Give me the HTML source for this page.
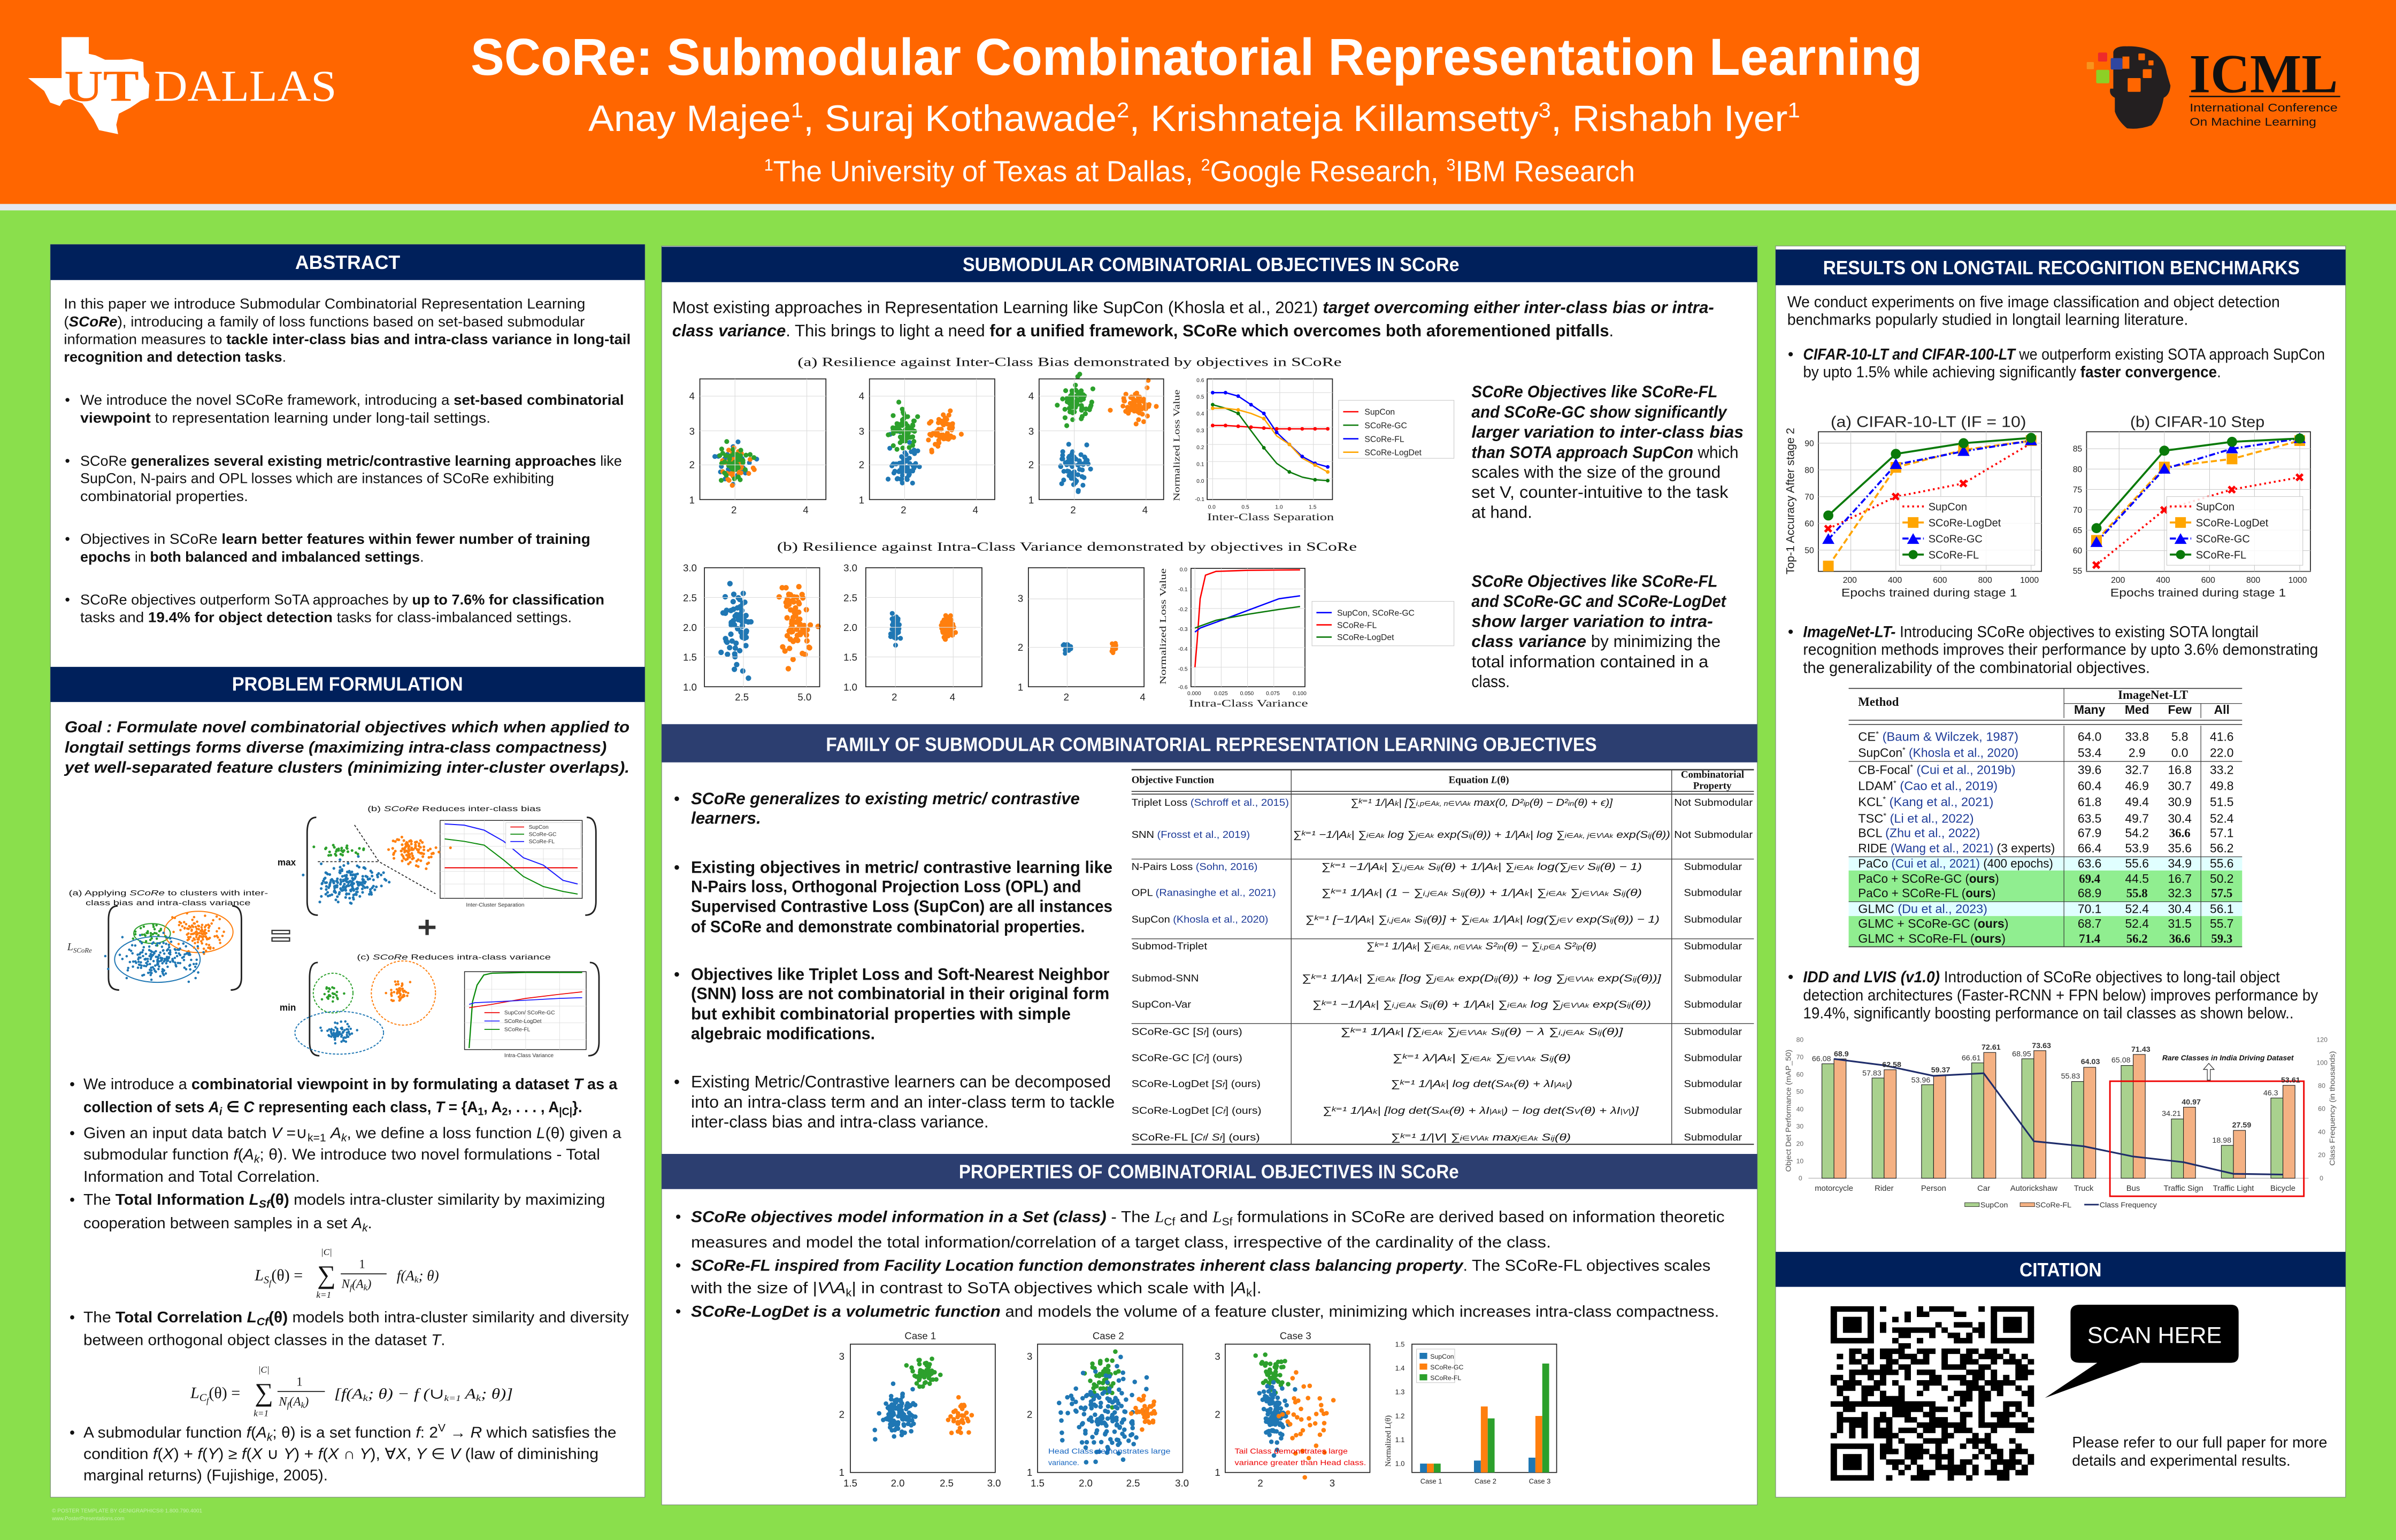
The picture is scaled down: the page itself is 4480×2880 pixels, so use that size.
<!DOCTYPE html>
<html><head><meta charset="utf-8"><style>
html,body{margin:0;padding:0;background:#8ADF4C;}
svg{display:block}
text{font-family:"Liberation Sans","DejaVu Sans",sans-serif;}
.s{font-family:"Liberation Serif","DejaVu Serif",serif;}
.b{font-weight:bold}
.i{font-style:italic}
.bi{font-weight:bold;font-style:italic}
.hd{font-weight:bold;fill:#fff;font-size:12.5px}
.cite{fill:#1f3c99}
</style></head><body>
<svg id="P" xmlns="http://www.w3.org/2000/svg" width="4480" height="2880" viewBox="0 0 1568 1008">
<rect x="0" y="0" width="1568" height="1008" fill="#8ADF4C"/>
<rect x="0" y="0" width="1568" height="133.5" fill="#FF6600"/>
<rect x="0" y="133.5" width="1568" height="4.2" fill="#E4E8F1"/>

<!-- UT Dallas logo -->
<polygon fill="#fff" points="40.3,24.3 58.1,24.3 58.1,35.2 62.5,36.2 68.8,39.1 79.7,39.1 85.9,38.5 93.8,40.6 94.1,50.2 97.7,55.4 97.2,64.2 92.2,65.9 85.2,70.6 77.8,74.4 76.1,81.7 77.3,87.8 64.8,85.2 61.3,78.2 53.9,67.7 45.6,64.8 41.4,65.9 39.1,69.4 32.8,67.1 28.9,59.5 18.4,51.1 40.3,51.1"/>
<text class="s" x="42" y="66" font-size="29" fill="#FF6600" font-weight="bold" textLength="49" lengthAdjust="spacingAndGlyphs">UT</text>
<text class="s" x="100.8" y="66" font-size="29" fill="#fff" textLength="119.5" lengthAdjust="spacingAndGlyphs">DALLAS</text>

<!-- ICML logo -->
<path fill="#231f20" d="M1383,34 Q1384,30 1392,30.3 Q1415,30 1418,48 L1420.4,56 Q1420,62 1416,64 Q1414,76 1408,82 Q1400,85 1392,84 Q1386,79 1384,73 L1384,64 Q1380,62 1381,58 L1383,58 Z"/>
<rect x="1373" y="34.4" width="6" height="5.9" rx="0.8" fill="#ee2a2a"/>
<rect x="1381.3" y="38" width="7.7" height="7.5" rx="0.8" fill="#2f46a0"/>
<rect x="1365.6" y="40.6" width="4.7" height="4.7" rx="0.6" fill="#f7941d"/>
<rect x="1371.8" y="45.7" width="8.6" height="8.8" rx="0.8" fill="#8dd026"/>
<rect x="1389" y="37" width="4.5" height="8" fill="#FF6600"/>
<rect x="1399.4" y="35" width="4.3" height="4.4" rx="0.6" fill="#FF6600"/>
<rect x="1406" y="39.5" width="3.3" height="3.3" rx="0.5" fill="#FF6600"/>
<rect x="1402.3" y="45.3" width="5.8" height="5.8" rx="0.6" fill="#FF6600"/>
<rect x="1392.4" y="51.1" width="8.5" height="9" rx="0.6" fill="#FF6600"/>
<text class="s" x="1432.7" y="60.4" font-size="36" font-weight="bold" fill="#111" textLength="97.3" lengthAdjust="spacingAndGlyphs">ICML</text>
<rect x="1432.7" y="62.7" width="98.8" height="0.9" fill="#111"/>
<text x="1433" y="72.9" font-size="7.3" fill="#111" textLength="96.8" lengthAdjust="spacingAndGlyphs">International Conference</text>
<text x="1433" y="82.3" font-size="7.3" fill="#111" textLength="82.8" lengthAdjust="spacingAndGlyphs">On Machine Learning</text>

<!-- Title -->
<text x="308" y="49" font-size="34" font-weight="bold" fill="#fff" textLength="950" lengthAdjust="spacingAndGlyphs">SCoRe: Submodular Combinatorial Representation Learning</text>
<text x="385" y="85.8" font-size="24" fill="#fff" textLength="793" lengthAdjust="spacingAndGlyphs">Anay Majee<tspan font-size="14" dy="-9">1</tspan><tspan dy="9">, Suraj Kothawade</tspan><tspan font-size="14" dy="-9">2</tspan><tspan dy="9">, Krishnateja Killamsetty</tspan><tspan font-size="14" dy="-9">3</tspan><tspan dy="9">, Rishabh Iyer</tspan><tspan font-size="14" dy="-9">1</tspan></text>
<text x="500" y="118.6" font-size="19" fill="#fff" textLength="570" lengthAdjust="spacingAndGlyphs"><tspan font-size="11" dy="-7">1</tspan><tspan dy="7">The University of Texas at Dallas, </tspan><tspan font-size="11" dy="-7">2</tspan><tspan dy="7">Google Research, </tspan><tspan font-size="11" dy="-7">3</tspan><tspan dy="7">IBM Research</tspan></text>

<!-- Column boxes -->
<rect x="33" y="160" width="389" height="820" fill="#fff" stroke="#7a8a7a" stroke-width="0.4"/>
<rect x="433" y="161" width="717" height="824" fill="#fff" stroke="#7a8a7a" stroke-width="0.4"/>
<rect x="1162" y="161" width="373" height="819" fill="#fff" stroke="#7a8a7a" stroke-width="0.4"/>

<!-- Headers -->
<rect x="33" y="160" width="389" height="23.3" fill="#00205B"/>
<text class="hd" x="227.5" y="176" text-anchor="middle">ABSTRACT</text>
<rect x="33" y="436.5" width="389" height="23" fill="#00205B"/>
<text class="hd" x="151.8" y="452" textLength="151.2" lengthAdjust="spacingAndGlyphs">PROBLEM FORMULATION</text>
<rect x="433" y="161.5" width="717" height="23.2" fill="#00205B"/>
<text class="hd" x="630" y="177.5" textLength="325" lengthAdjust="spacingAndGlyphs">SUBMODULAR COMBINATORIAL OBJECTIVES IN SCoRe</text>
<rect x="433" y="474" width="717" height="25" fill="#2C3E70"/>
<text class="hd" x="540.5" y="491.5" textLength="504.5" lengthAdjust="spacingAndGlyphs">FAMILY OF SUBMODULAR COMBINATORIAL REPRESENTATION LEARNING OBJECTIVES</text>
<rect x="433" y="755.3" width="717" height="23" fill="#2C3E70"/>
<text class="hd" x="627.5" y="771.3" textLength="327.2" lengthAdjust="spacingAndGlyphs">PROPERTIES OF COMBINATORIAL OBJECTIVES IN SCoRe</text>
<rect x="1162" y="163.3" width="373" height="23.4" fill="#00205B"/>
<text class="hd" x="1193" y="179.5" textLength="312" lengthAdjust="spacingAndGlyphs">RESULTS ON LONGTAIL RECOGNITION BENCHMARKS</text>
<rect x="1162" y="819.4" width="373" height="22.9" fill="#00205B"/>
<text class="hd" x="1321.6" y="835.5" textLength="53.7" lengthAdjust="spacingAndGlyphs">CITATION</text>

<!-- Abstract text -->
<g font-size="9.5" fill="#111">
<text x="41.8" y="202" textLength="341.2" lengthAdjust="spacingAndGlyphs">In this paper we introduce Submodular Combinatorial Representation Learning</text>
<text x="41.8" y="213.6" textLength="340.9" lengthAdjust="spacingAndGlyphs">(<tspan class="bi">SCoRe</tspan>), introducing a family of loss functions based on set-based submodular</text>
<text x="41.8" y="225.2" textLength="370.9" lengthAdjust="spacingAndGlyphs">information measures to <tspan class="b">tackle inter-class bias and intra-class variance in long-tail</tspan></text>
<text x="41.8" y="236.8" textLength="145.5" lengthAdjust="spacingAndGlyphs"><tspan class="b">recognition and detection tasks</tspan>.</text>
<text x="42.5" y="265">•</text><text x="52.5" y="265" textLength="355.8" lengthAdjust="spacingAndGlyphs">We introduce the novel SCoRe framework, introducing a <tspan class="b">set-based combinatorial</tspan></text>
<text x="52.5" y="276.6" textLength="268.5" lengthAdjust="spacingAndGlyphs"><tspan class="b">viewpoint</tspan> to representation learning under long-tail settings.</text>
<text x="42.5" y="304.8">•</text><text x="52.5" y="304.8" textLength="354.5" lengthAdjust="spacingAndGlyphs">SCoRe <tspan class="b">generalizes several existing metric/contrastive learning approaches</tspan> like</text>
<text x="52.5" y="316.3" textLength="310.1" lengthAdjust="spacingAndGlyphs">SupCon, N-pairs and OPL losses which are instances of SCoRe exhibiting</text>
<text x="52.5" y="327.9" textLength="109.9" lengthAdjust="spacingAndGlyphs">combinatorial properties.</text>
<text x="42.5" y="356">•</text><text x="52.5" y="356" textLength="333.8" lengthAdjust="spacingAndGlyphs">Objectives in SCoRe <tspan class="b">learn better features within fewer number of training</tspan></text>
<text x="52.5" y="367.7" textLength="224.9" lengthAdjust="spacingAndGlyphs"><tspan class="b">epochs</tspan> in <tspan class="b">both balanced and imbalanced settings</tspan>.</text>
<text x="42.5" y="395.7">•</text><text x="52.5" y="395.7" textLength="343" lengthAdjust="spacingAndGlyphs">SCoRe objectives outperform SoTA approaches by <tspan class="b">up to 7.6% for classification</tspan></text>
<text x="52.5" y="407.3" textLength="321.7" lengthAdjust="spacingAndGlyphs">tasks and <tspan class="b">19.4% for object detection</tspan> tasks for class-imbalanced settings.</text>
</g>

<!-- Problem formulation -->
<g font-size="10.5" class="bi" fill="#111">
<text class="bi" x="42.3" y="479.3" textLength="369.7" lengthAdjust="spacingAndGlyphs">Goal : Formulate novel combinatorial objectives which when applied to</text>
<text class="bi" x="42.3" y="492.7" textLength="354.7" lengthAdjust="spacingAndGlyphs">longtail settings forms diverse (maximizing intra-class compactness)</text>
<text class="bi" x="42.3" y="505.7" textLength="369.7" lengthAdjust="spacingAndGlyphs">yet well-separated feature clusters (minimizing inter-cluster overlaps).</text>
</g>
<!-- formulation figure -->
<g fill="none" stroke="#222" stroke-width="1">
<path d="M207,535 Q201,535 201,545 L201,590 Q201,599 208,599"/>
<path d="M384,535 Q390,535 390,545 L390,590 Q390,599 383,599"/>
<path d="M77,593 Q71,593 71,602 L71,640 Q71,648 78,648"/>
<path d="M152,593 Q158,593 158,602 L158,640 Q158,648 151,648"/>
<path d="M208,630 Q202.6,630 202.6,640 L202.6,682 Q202.6,691 209,691"/>
<path d="M386,630 Q392,630 392,640 L392,682 Q392,691 385,691"/>
</g>
<g stroke="#222" stroke-width="0.6" stroke-dasharray="1.5,1.2" fill="none">
<path d="M208,564 L248,564"/><path d="M232,540 L248,564 L285,585"/>
</g>
<text x="240.5" y="531" font-size="5" textLength="113.5" lengthAdjust="spacingAndGlyphs" fill="#111">(b) <tspan class="i">SCoRe</tspan> Reduces inter-class bias</text>
<text x="181.6" y="566.5" font-size="6" class="b" fill="#111">max</text>
<text x="45" y="586" font-size="4.8" textLength="130.4" lengthAdjust="spacingAndGlyphs" fill="#111">(a) Applying <tspan class="i">SCoRe</tspan> to clusters with inter-</text>
<text x="56" y="592.5" font-size="4.8" textLength="108" lengthAdjust="spacingAndGlyphs" fill="#111">class bias and intra-class variance</text>
<text class="s i" x="44" y="622" font-size="7" fill="#333">L<tspan font-size="4.5" dy="1.5">SCoRe</tspan></text>
<g stroke="#333" stroke-width="0.8" fill="none"><rect x="178" y="609" width="11.5" height="2.2"/><rect x="178" y="613.8" width="11.5" height="2.2"/>
<path d="M279.5,602 L279.5,612 M274,607 L285,607" stroke-width="2.2"/></g>
<g fill="none" stroke-width="0.7">
<ellipse cx="99.5" cy="611" rx="12" ry="6.5" stroke="#2ca02c"/>
<ellipse cx="130" cy="610" rx="22.5" ry="13.5" stroke="#ff7f0e"/>
<ellipse cx="103" cy="628" rx="28" ry="15" stroke="#1f77b4"/>
<circle cx="218" cy="650" r="13" stroke="#2ca02c" stroke-dasharray="1.5,1"/>
<circle cx="264" cy="650" r="21" stroke="#ff7f0e" stroke-dasharray="1.5,1"/>
<ellipse cx="222" cy="676" rx="29" ry="14" stroke="#1f77b4" stroke-dasharray="1.5,1"/>
</g>
<text x="233.6" y="628" font-size="5" textLength="126.9" lengthAdjust="spacingAndGlyphs" fill="#111">(c) <tspan class="i">SCoRe</tspan> Reduces intra-class variance</text>
<text x="183" y="661.5" font-size="6" class="b" fill="#111">min</text>
<!-- mini chart b -->
<g>
<rect x="288" y="537" width="93" height="51" fill="none" stroke="#222" stroke-width="0.5"/>
<g stroke="#ddd" stroke-width="0.3"><path d="M291,537V588M303.8,537V588M316.9,537V588M329.7,537V588M342.5,537V588M355.6,537V588M368.4,537V588M288,545.8H381M288,554H381M288,562.2H381M288,570.4H381M288,578.6H381"/></g>
<polyline fill="none" stroke="#e00" stroke-width="0.7" points="291,568 303.8,568 316.9,568 329.7,568 342.5,568 355.6,568 368.4,568 378,568"/>
<polyline fill="none" stroke="#1a1aff" stroke-width="0.7" points="291,539.3 303.8,540.1 316.9,543.4 329.7,550.7 342.5,561.4 355.6,566.3 368.4,576.2 378,578.6"/>
<polyline fill="none" stroke="#0a8a0a" stroke-width="0.7" points="291,549.1 303.8,550.7 316.9,553.2 329.7,563 342.5,573.7 355.6,580.3 368.4,583.5 378,585.2"/>
<rect x="331" y="538.5" width="49" height="17" fill="#fff" stroke="#ccc" stroke-width="0.3"/>
<g class="s" font-size="3.6" fill="#333"><text x="346" y="542.5">SupCon</text><text x="346" y="547.3">SCoRe-GC</text><text x="346" y="552">SCoRe-FL</text>
<text x="305" y="593.5">Inter-Cluster Separation</text></g>
<g stroke-width="0.6"><path d="M334,541.3h9" stroke="#e00"/><path d="M334,546h9" stroke="#0a8a0a"/><path d="M334,550.8h9" stroke="#1a1aff"/></g>
</g>
<!-- mini chart c -->
<g>
<rect x="304" y="636" width="79.6" height="51" fill="none" stroke="#222" stroke-width="0.5"/>
<g stroke="#ddd" stroke-width="0.3"><path d="M304,647.5H383.6M304,658.5H383.6M304,669.5H383.6M304,680.5H383.6M321.8,636V687M344,636V687M366.2,636V687"/></g>
<polyline fill="none" stroke="#0a8a0a" stroke-width="0.8" points="307,686 309.2,655.8 312.2,644.8 316.6,638.2 321.8,637 344,636.5 366.2,636.5 381,636.5"/>
<polyline fill="none" stroke="#e00" stroke-width="0.6" points="307,659.6 321.8,657.4 344,653.5 366.2,650.8 381,649.2"/>
<polyline fill="none" stroke="#1a1aff" stroke-width="0.6" points="307,657.4 310.7,656.3 321.8,655.8 344,654.7 366.2,653.5 381,653"/>
<g class="s" font-size="3.6" fill="#333"><text x="330" y="664">SupCon/ SCoRe-GC</text><text x="330" y="669.5">SCoRe-LogDet</text><text x="330" y="675">SCoRe-FL</text><text x="330" y="692">Intra-Class Variance</text></g>
<g stroke-width="0.6"><path d="M317,662.8h10" stroke="#e00"/><path d="M317,668.3h10" stroke="#1a1aff"/><path d="M317,673.8h10" stroke="#0a8a0a"/></g>
</g>
<g id="sc"></g>

<g font-size="10" fill="#111">
<text x="45.5" y="713">•</text><text x="54.6" y="713" textLength="349.4" lengthAdjust="spacingAndGlyphs">We introduce a <tspan class="b">combinatorial viewpoint in by formulating a dataset <tspan class="i">T</tspan> as a</tspan></text>
<text x="54.6" y="728" textLength="326.4" lengthAdjust="spacingAndGlyphs" class="b">collection of sets <tspan class="i">A<tspan font-size="7" dy="2">i</tspan></tspan><tspan dy="-2"> ∈ </tspan><tspan class="i">C</tspan> representing each class, <tspan class="i">T</tspan> = {A<tspan font-size="7" dy="2">1</tspan><tspan dy="-2">, A</tspan><tspan font-size="7" dy="2">2</tspan><tspan dy="-2">, . . . , A</tspan><tspan font-size="7" dy="2">|C|</tspan><tspan dy="-2">}.</tspan></text>
<text x="45.5" y="745">•</text><text x="54.6" y="745" textLength="352" lengthAdjust="spacingAndGlyphs">Given an input data batch <tspan class="i">V</tspan> =∪<tspan font-size="7" dy="2">k=1</tspan><tspan dy="-2"> </tspan><tspan class="i">A<tspan font-size="7" dy="2">k</tspan></tspan><tspan dy="-2">, we define a loss function </tspan><tspan class="i">L</tspan>(θ) given a</text>
<text x="54.6" y="759" textLength="338.1" lengthAdjust="spacingAndGlyphs">submodular function <tspan class="i">f</tspan>(<tspan class="i">A<tspan font-size="7" dy="2">k</tspan></tspan><tspan dy="-2">; θ). We introduce two novel formulations - Total</tspan></text>
<text x="54.6" y="773.5" textLength="154.7" lengthAdjust="spacingAndGlyphs">Information and Total Correlation.</text>
<text x="45.5" y="788.5">•</text><text x="54.6" y="788.5" textLength="341.4" lengthAdjust="spacingAndGlyphs">The <tspan class="b">Total Information </tspan><tspan class="bi">L<tspan font-size="7" dy="2">Sf</tspan></tspan><tspan class="b" dy="-2">(θ)</tspan> models intra-cluster similarity by maximizing</text>
<text x="54.6" y="804" textLength="188.9" lengthAdjust="spacingAndGlyphs">cooperation between samples in a set <tspan class="i">A<tspan font-size="7" dy="2">k</tspan></tspan><tspan dy="-2">.</tspan></text>
<text x="45.5" y="865.5">•</text><text x="54.6" y="865.5" textLength="356.9" lengthAdjust="spacingAndGlyphs">The <tspan class="b">Total Correlation </tspan><tspan class="bi">L<tspan font-size="7" dy="2">Cf</tspan></tspan><tspan class="b" dy="-2">(θ)</tspan> models both intra-cluster similarity and diversity</text>
<text x="54.6" y="880.5" textLength="236.8" lengthAdjust="spacingAndGlyphs">between orthogonal object classes in the dataset <tspan class="i">T</tspan>.</text>
<text x="45.5" y="941">•</text><text x="54.6" y="941" textLength="348.8" lengthAdjust="spacingAndGlyphs">A submodular function <tspan class="i">f</tspan>(<tspan class="i">A<tspan font-size="7" dy="2">k</tspan></tspan><tspan dy="-2">; θ) is a set function </tspan><tspan class="i">f</tspan>: 2<tspan font-size="7" dy="-4">V</tspan><tspan dy="4"> → </tspan><tspan class="i">R</tspan> which satisfies the</text>
<text x="54.6" y="955" textLength="337.1" lengthAdjust="spacingAndGlyphs">condition <tspan class="i">f</tspan>(<tspan class="i">X</tspan>) + <tspan class="i">f</tspan>(<tspan class="i">Y</tspan>) ≥ <tspan class="i">f</tspan>(<tspan class="i">X</tspan> ∪ <tspan class="i">Y</tspan>) + <tspan class="i">f</tspan>(<tspan class="i">X</tspan> ∩ <tspan class="i">Y</tspan>), ∀<tspan class="i">X</tspan>, <tspan class="i">Y</tspan> ∈ <tspan class="i">V</tspan> (law of diminishing</text>
<text x="54.6" y="969" textLength="159.9" lengthAdjust="spacingAndGlyphs">marginal returns) (Fujishige, 2005).</text>
</g>
<!-- Eq1 -->
<g fill="#111" class="s">
<text class="s i" x="166.7" y="838" font-size="10.5">L<tspan font-size="7" dy="2">S</tspan><tspan font-size="5.5" dy="1.5">f</tspan><tspan dy="-3.5" font-style="normal">(θ) =</tspan></text>
<text class="s" x="207.6" y="840" font-size="17">∑</text>
<text class="s i" x="210" y="821.5" font-size="6">|C|</text>
<text class="s i" x="207" y="849.5" font-size="6">k=1</text>
<text class="s" x="235" y="830" font-size="8">1</text>
<rect x="223" y="833.5" width="30" height="0.6" fill="#111"/>
<text class="s i" x="223.5" y="843" font-size="8">N<tspan font-size="5.5" dy="1.5">f</tspan><tspan dy="-1.5">(A</tspan><tspan font-size="5.5" dy="1.5">k</tspan><tspan dy="-1.5">)</tspan></text>
<text class="s i" x="259.6" y="838" font-size="9.5">f(A<tspan font-size="6" dy="1.5">k</tspan><tspan dy="-1.5">; θ)</tspan></text>
<!-- Eq2 -->
<text class="s i" x="124.6" y="915" font-size="10.5">L<tspan font-size="7" dy="2">C</tspan><tspan font-size="5.5" dy="1.5">f</tspan><tspan dy="-3.5" font-style="normal">(θ) =</tspan></text>
<text class="s" x="166.7" y="917" font-size="17">∑</text>
<text class="s i" x="169" y="898.5" font-size="6">|C|</text>
<text class="s i" x="166" y="927" font-size="6">k=1</text>
<text class="s" x="194" y="907" font-size="8">1</text>
<rect x="181.6" y="910.5" width="31" height="0.6" fill="#111"/>
<text class="s i" x="182.5" y="920" font-size="8">N<tspan font-size="5.5" dy="1.5">f</tspan><tspan dy="-1.5">(A</tspan><tspan font-size="5.5" dy="1.5">k</tspan><tspan dy="-1.5">)</tspan></text>
<text class="s i" x="218.7" y="915.5" font-size="9.5" textLength="117" lengthAdjust="spacingAndGlyphs">[f(A<tspan font-size="6" dy="1.5">k</tspan><tspan dy="-1.5">; θ) − f (∪</tspan><tspan font-size="5.5" dy="1.5">k=1</tspan><tspan dy="-1.5"> A</tspan><tspan font-size="6" dy="1.5">k</tspan><tspan dy="-1.5">; θ)]</tspan></text>
</g>
<text x="34" y="990" font-size="3.5" fill="#c8f0b0">© POSTER TEMPLATE BY GENIGRAPHICS® 1.800.790.4001</text>
<text x="34" y="995" font-size="3.5" fill="#c8f0b0">www.PosterPresentations.com</text>

<!-- Middle intro -->
<g font-size="11" fill="#111">
<text x="439.9" y="205" textLength="681.8" lengthAdjust="spacingAndGlyphs">Most existing approaches in Representation Learning like SupCon (Khosla et al., 2021) <tspan class="bi">target overcoming either inter-class bias or intra-</tspan></text>
<text x="439.9" y="220.2" textLength="616.1" lengthAdjust="spacingAndGlyphs"><tspan class="bi">class variance</tspan>. This brings to light a need <tspan class="b">for a unified framework, SCoRe which overcomes both aforementioned pitfalls</tspan>.</text>
</g>
<text class="s" x="522" y="239.5" font-size="8" textLength="356" lengthAdjust="spacingAndGlyphs" fill="#111">(a) Resilience against Inter-Class Bias demonstrated by objectives in SCoRe</text>
<text class="s" x="508.5" y="360.5" font-size="8" textLength="379.5" lengthAdjust="spacingAndGlyphs" fill="#111">(b) Resilience against Intra-Class Variance demonstrated by objectives in SCoRe</text>
<!-- scatter frames a -->
<g fill="none" stroke="#222" stroke-width="0.6">
<rect x="458" y="248" width="82.5" height="79"/><rect x="569" y="248" width="82" height="79"/><rect x="680" y="248" width="81.5" height="79"/><rect x="790" y="248" width="82" height="79"/>
<rect x="461" y="371.6" width="75.4" height="77.9"/><rect x="566.6" y="371.6" width="76" height="77.9"/><rect x="673" y="371.6" width="75.7" height="77.9"/><rect x="779.4" y="372" width="74.6" height="77.5"/>
</g>
<g stroke="#ddd" stroke-width="0.4">
<path d="M458,259.3H540.5M458,282H540.5M458,304.3H540.5M481,248V327M528,248V327"/>
<path d="M569,259.3H651M569,282H651M569,304.3H651M592,248V327M639,248V327"/>
<path d="M680,259.3H761.5M680,282H761.5M680,304.3H761.5M703,248V327M750,248V327"/>
<path d="M790,257H872M790,268.3H872M790,279.6H872M790,290.9H872M790,302.1H872M790,313.4H872M793.6,248V327M815.6,248V327M837.5,248V327M859.5,248V327"/>
<path d="M461,391.1H536.4M461,410.6H536.4M461,430H536.4M486.5,371.6V449.5M527.7,371.6V449.5"/>
<path d="M566.6,391.1H642.6M566.6,410.6H642.6M566.6,430H642.6M586,371.6V449.5M623.8,371.6V449.5"/>
<path d="M673,392H748.7M673,423.7H748.7M698.4,371.6V449.5"/>
<path d="M779.4,385.5H854M779.4,398.3H854M779.4,411.1H854M779.4,423.9H854M779.4,436.7H854M782,372V449.5M799.2,372V449.5M816.4,372V449.5M833.6,372V449.5"/>
</g>
<g class="s" font-size="6.5" fill="#222">
<text x="451" y="261.5">4</text><text x="451" y="284.5">3</text><text x="451" y="306.5">2</text><text x="451" y="329.5">1</text>
<text x="478.5" y="336">2</text><text x="525.5" y="336">4</text>
<text x="562" y="261.5">4</text><text x="562" y="284.5">3</text><text x="562" y="306.5">2</text><text x="562" y="329.5">1</text>
<text x="589.5" y="336">2</text><text x="636.5" y="336">4</text>
<text x="673" y="261.5">4</text><text x="673" y="284.5">3</text><text x="673" y="306.5">2</text><text x="673" y="329.5">1</text>
<text x="700.5" y="336">2</text><text x="747.5" y="336">4</text>
<text x="447" y="374">3.0</text><text x="447" y="393.5">2.5</text><text x="447" y="413">2.0</text><text x="447" y="432.5">1.5</text><text x="447" y="452">1.0</text>
<text x="481" y="458.5">2.5</text><text x="522" y="458.5">5.0</text>
<text x="552" y="374">3.0</text><text x="552" y="393.5">2.5</text><text x="552" y="413">2.0</text><text x="552" y="432.5">1.5</text><text x="552" y="452">1.0</text>
<text x="583.5" y="458.5">2</text><text x="621.5" y="458.5">4</text>
<text x="666" y="394">3</text><text x="666" y="426">2</text><text x="666" y="452">1</text>
<text x="696" y="458.5">2</text><text x="746" y="458.5">4</text>
</g>
<g class="s" font-size="3.6" fill="#222">
<text x="783" y="250">0.6</text><text x="783" y="261">0.5</text><text x="783" y="272">0.4</text><text x="783" y="283">0.3</text><text x="783" y="294">0.2</text><text x="783" y="305">0.1</text><text x="783" y="316">0.0</text><text x="782" y="328">-0.1</text>
<text x="790.5" y="333">0.0</text><text x="812.5" y="333">0.5</text><text x="834.5" y="333">1.0</text><text x="856.5" y="333">1.5</text>
<text x="772" y="374">0.0</text><text x="771" y="387">-0.1</text><text x="771" y="400">-0.2</text><text x="771" y="413">-0.3</text><text x="771" y="426">-0.4</text><text x="771" y="439">-0.5</text><text x="771" y="451">-0.6</text>
<text x="777" y="455">0.000</text><text x="794.5" y="455">0.025</text><text x="811.5" y="455">0.050</text><text x="828.5" y="455">0.075</text><text x="846" y="455">0.100</text>
</g>
<text class="s" x="790" y="340.5" font-size="6.5" textLength="83" lengthAdjust="spacingAndGlyphs" fill="#222">Inter-Class Separation</text>
<text class="s" x="778" y="462.5" font-size="6.5" textLength="78" lengthAdjust="spacingAndGlyphs" fill="#222">Intra-Class Variance</text>
<text class="s" transform="translate(772,328) rotate(-90)" font-size="6" textLength="73" lengthAdjust="spacingAndGlyphs" fill="#222">Normalized Loss Value</text>
<text class="s" transform="translate(763,448) rotate(-90)" font-size="6" textLength="76" lengthAdjust="spacingAndGlyphs" fill="#222">Normalized Loss Value</text>
<!-- lines chart a -->
<g fill="none" stroke-width="0.9">
<polyline stroke="#f00" points="793.6,278.5 802,278.5 810.3,279 818.7,279.6 827.1,280.2 835.5,280.7 843.8,280.7 852.2,280.7 860.6,280.7 868.9,280.7"/>
<polyline stroke="#00f" points="793.6,257 802,257 810.3,259.3 818.7,264.9 827.1,270.6 835.5,283 843.8,290.9 852.2,298.8 860.6,303.3 868.9,305.6"/>
<polyline stroke="#0a7a0a" points="793.6,264.9 802,267.2 810.3,270.6 818.7,281.9 827.1,293.1 835.5,303.3 843.8,308.9 852.2,312.3 860.6,314 868.9,314.6"/>
<polyline stroke="#ffa500" points="793.6,267.2 802,267.2 810.3,268.3 818.7,270.6 827.1,274 835.5,285.3 843.8,290.9 852.2,299.9 860.6,304.4 868.9,308.9"/>
</g>
<g>
<g fill="#f00"><circle cx="793.6" cy="278.5" r="1.2"/><circle cx="802" cy="278.5" r="1.2"/><circle cx="810.3" cy="279" r="1.2"/><circle cx="818.7" cy="279.6" r="1.2"/><circle cx="827.1" cy="280.2" r="1.2"/><circle cx="835.5" cy="280.7" r="1.2"/><circle cx="843.8" cy="280.7" r="1.2"/><circle cx="852.2" cy="280.7" r="1.2"/><circle cx="860.6" cy="280.7" r="1.2"/><circle cx="868.9" cy="280.7" r="1.2"/></g>
<g fill="#00f"><circle cx="793.6" cy="257" r="1.2"/><circle cx="802" cy="257" r="1.2"/><circle cx="810.3" cy="259.3" r="1.2"/><circle cx="818.7" cy="264.9" r="1.2"/><circle cx="827.1" cy="270.6" r="1.2"/><circle cx="835.5" cy="283" r="1.2"/><circle cx="843.8" cy="290.9" r="1.2"/><circle cx="852.2" cy="298.8" r="1.2"/><circle cx="860.6" cy="303.3" r="1.2"/><circle cx="868.9" cy="305.6" r="1.2"/></g>
<g fill="#0a7a0a"><circle cx="793.6" cy="264.9" r="1.2"/><circle cx="810.3" cy="270.6" r="1.2"/><circle cx="827.1" cy="293.1" r="1.2"/><circle cx="843.8" cy="308.9" r="1.2"/><circle cx="860.6" cy="314" r="1.2"/><circle cx="868.9" cy="314.6" r="1.2"/></g>
<g fill="#ffa500"><circle cx="793.6" cy="267.2" r="1.2"/><circle cx="810.3" cy="268.3" r="1.2"/><circle cx="827.1" cy="274" r="1.2"/><circle cx="843.8" cy="290.9" r="1.2"/><circle cx="860.6" cy="304.4" r="1.2"/><circle cx="868.9" cy="308.9" r="1.2"/></g>
</g>
<rect x="876" y="262" width="75.5" height="38" fill="#fff" stroke="#ccc" stroke-width="0.4"/>
<g stroke-width="0.9"><path d="M879,269.5h10" stroke="#f00"/><path d="M879,278.3h10" stroke="#0a7a0a"/><path d="M879,287.2h10" stroke="#00f"/><path d="M879,296h10" stroke="#ffa500"/></g>
<g class="s" font-size="5.5" fill="#222"><text x="893" y="271.5">SupCon</text><text x="893" y="280.3">SCoRe-GC</text><text x="893" y="289.2">SCoRe-FL</text><text x="893" y="298">SCoRe-LogDet</text></g>
<!-- lines chart b -->
<g fill="none" stroke-width="0.9">
<polyline stroke="#f00" points="782,436.7 783.4,420.1 785.4,391.9 788.9,376.5 795.8,374 816.4,373.3 837,373.1 850.8,373"/>
<polyline stroke="#00f" points="782,413.7 785.4,411.1 788.9,409.8 795.8,407.3 816.4,399.6 837,391.9 850.8,390"/>
<polyline stroke="#0a7a0a" points="782,411.1 785.4,409.8 788.9,408.5 795.8,406 816.4,402.1 837,398.9 850.8,397"/>
</g>
<rect x="858.6" y="393.6" width="92.9" height="29.1" fill="#fff" stroke="#ccc" stroke-width="0.4"/>
<g stroke-width="0.9"><path d="M861.5,401h10" stroke="#00f"/><path d="M861.5,409h10" stroke="#f00"/><path d="M861.5,417h10" stroke="#0a7a0a"/></g>
<g class="s" font-size="5.5" fill="#222"><text x="875" y="403">SupCon, SCoRe-GC</text><text x="875" y="411">SCoRe-FL</text><text x="875" y="419">SCoRe-LogDet</text></g>
<!-- right text blocks -->
<g font-size="11" fill="#111">
<text class="bi" x="963" y="260" textLength="161" lengthAdjust="spacingAndGlyphs">SCoRe Objectives like SCoRe-FL</text>
<text class="bi" x="963" y="273.4" textLength="167" lengthAdjust="spacingAndGlyphs">and SCoRe-GC show significantly</text>
<text class="bi" x="963" y="286.5" textLength="178" lengthAdjust="spacingAndGlyphs">larger variation to inter-class bias</text>
<text x="963" y="299.7" textLength="174.7" lengthAdjust="spacingAndGlyphs"><tspan class="bi">than SOTA approach SupCon</tspan> which</text>
<text x="963" y="312.7" textLength="163" lengthAdjust="spacingAndGlyphs">scales with the size of the ground</text>
<text x="963" y="325.8" textLength="168" lengthAdjust="spacingAndGlyphs">set V, counter-intuitive to the task</text>
<text x="963" y="339" textLength="39.7" lengthAdjust="spacingAndGlyphs">at hand.</text>
<text class="bi" x="963" y="384.2" textLength="161" lengthAdjust="spacingAndGlyphs">SCoRe Objectives like SCoRe-FL</text>
<text class="bi" x="963" y="397.2" textLength="166.5" lengthAdjust="spacingAndGlyphs">and SCoRe-GC and SCoRe-LogDet</text>
<text class="bi" x="963" y="410.4" textLength="158" lengthAdjust="spacingAndGlyphs">show larger variation to intra-</text>
<text x="963" y="423.5" textLength="163" lengthAdjust="spacingAndGlyphs"><tspan class="bi">class variance</tspan> by minimizing the</text>
<text x="963" y="436.8" textLength="155" lengthAdjust="spacingAndGlyphs">total information contained in a</text>
<text x="963" y="449.7" textLength="25" lengthAdjust="spacingAndGlyphs">class.</text>
</g>

<!-- Family bullets -->
<g font-size="11" fill="#111">
<text x="441" y="526.4">•</text><text class="bi" x="452.2" y="526.4" textLength="254.4" lengthAdjust="spacingAndGlyphs">SCoRe generalizes to existing metric/ contrastive</text>
<text class="bi" x="452.2" y="539.2" textLength="45.8" lengthAdjust="spacingAndGlyphs">learners.</text>
<text x="441" y="571.3">•</text><text class="b" x="452.2" y="571.3" textLength="275.8" lengthAdjust="spacingAndGlyphs">Existing objectives in metric/ contrastive learning like</text>
<text class="b" x="452.2" y="584" textLength="255.4" lengthAdjust="spacingAndGlyphs">N-Pairs loss, Orthogonal Projection Loss (OPL) and</text>
<text class="b" x="452.2" y="597" textLength="275.8" lengthAdjust="spacingAndGlyphs">Supervised Contrastive Loss (SupCon) are all instances</text>
<text class="b" x="452.2" y="610.3" textLength="257.8" lengthAdjust="spacingAndGlyphs">of SCoRe and demonstrate combinatorial properties.</text>
<text x="441" y="641.4">•</text><text class="b" x="452.2" y="641.4" textLength="273.8" lengthAdjust="spacingAndGlyphs">Objectives like Triplet Loss and Soft-Nearest Neighbor</text>
<text class="b" x="452.2" y="654" textLength="273.8" lengthAdjust="spacingAndGlyphs">(SNN) loss are not combinatorial in their original form</text>
<text class="b" x="452.2" y="667.3" textLength="248.5" lengthAdjust="spacingAndGlyphs">but exhibit combinatorial properties with simple</text>
<text class="b" x="452.2" y="680.3" textLength="120.4" lengthAdjust="spacingAndGlyphs">algebraic modifications.</text>
<text x="441" y="711.8">•</text><text x="452.2" y="711.8" textLength="274.8" lengthAdjust="spacingAndGlyphs">Existing Metric/Contrastive learners can be decomposed</text>
<text x="452.2" y="725" textLength="277.3" lengthAdjust="spacingAndGlyphs">into an intra-class term and an inter-class term to tackle</text>
<text x="452.2" y="738" textLength="194.8" lengthAdjust="spacingAndGlyphs">inter-class bias and intra-class variance.</text>
</g>
<!-- Family table -->
<g stroke="#444" fill="none">
<path d="M740.5,503.8H1147.8" stroke-width="0.9"/>
<path d="M740.5,518H1147.8M740.5,519.8H1147.8" stroke-width="0.6"/>
<path d="M740.5,562.3H1147.8M740.5,614.5H1147.8M740.5,670H1147.8" stroke-width="0.5"/>
<path d="M740.5,749H1147.8" stroke-width="0.8"/>
<path d="M845,503.8V749M1094,503.8V749" stroke-width="0.5"/>
</g>
<g class="s" font-size="6.6" fill="#111">
<text class="s b" x="740.5" y="512.5">Objective Function</text>
<text class="s b" x="948" y="512.5">Equation <tspan class="i">L</tspan>(θ)</text>
<text class="s b" x="1100" y="509">Combinatorial</text><text class="s b" x="1108" y="516.5">Property</text>
<text x="740.5" y="527.5" textLength="103" lengthAdjust="spacingAndGlyphs">Triplet Loss <tspan class="cite">(Schroff et al., 2015)</tspan></text>
<text x="740.5" y="548.5" textLength="77.5" lengthAdjust="spacingAndGlyphs">SNN <tspan class="cite">(Frosst et al., 2019)</tspan></text>
<text x="740.5" y="569.5" textLength="82.5" lengthAdjust="spacingAndGlyphs">N-Pairs Loss <tspan class="cite">(Sohn, 2016)</tspan></text>
<text x="740.5" y="586.5" textLength="94.5" lengthAdjust="spacingAndGlyphs">OPL <tspan class="cite">(Ranasinghe et al., 2021)</tspan></text>
<text x="740.5" y="604" textLength="89.5" lengthAdjust="spacingAndGlyphs">SupCon <tspan class="cite">(Khosla et al., 2020)</tspan></text>
<text x="740.5" y="621.5" textLength="49.5" lengthAdjust="spacingAndGlyphs">Submod-Triplet</text>
<text x="740.5" y="642.5" textLength="44" lengthAdjust="spacingAndGlyphs">Submod-SNN</text>
<text x="740.5" y="659.5" textLength="39" lengthAdjust="spacingAndGlyphs">SupCon-Var</text>
<text x="740.5" y="677.5" textLength="72.5" lengthAdjust="spacingAndGlyphs">SCoRe-GC [<tspan class="i">S<tspan font-size="4.5">f</tspan></tspan>] (ours)</text>
<text x="740.5" y="694.5" textLength="72.5" lengthAdjust="spacingAndGlyphs">SCoRe-GC [<tspan class="i">C<tspan font-size="4.5">f</tspan></tspan>] (ours)</text>
<text x="740.5" y="711.5" textLength="84.5" lengthAdjust="spacingAndGlyphs">SCoRe-LogDet [<tspan class="i">S<tspan font-size="4.5">f</tspan></tspan>] (ours)</text>
<text x="740.5" y="729" textLength="85" lengthAdjust="spacingAndGlyphs">SCoRe-LogDet [<tspan class="i">C<tspan font-size="4.5">f</tspan></tspan>] (ours)</text>
<text x="740.5" y="746.5" textLength="84" lengthAdjust="spacingAndGlyphs">SCoRe-FL [<tspan class="i">C<tspan font-size="4.5">f</tspan></tspan>/ <tspan class="i">S<tspan font-size="4.5">f</tspan></tspan>] (ours)</text>
<g class="i">
<text x="883.7" y="527.5" textLength="171.6" lengthAdjust="spacingAndGlyphs">∑ᵏ⁼¹ 1/|A<tspan font-size="4.5">k</tspan>| [∑<tspan font-size="4.5">i,p∈A<tspan font-size="4">k</tspan>, n∈V\A<tspan font-size="4">k</tspan></tspan> max(0, D²<tspan font-size="4.5">ip</tspan>(θ) − D²<tspan font-size="4.5">in</tspan>(θ) + ϵ)]</text>
<text x="846" y="548.5" textLength="247" lengthAdjust="spacingAndGlyphs">∑ᵏ⁼¹ −1/|A<tspan font-size="4.5">k</tspan>| ∑<tspan font-size="4.5">i∈A<tspan font-size="4">k</tspan></tspan> log ∑<tspan font-size="4.5">j∈A<tspan font-size="4">k</tspan></tspan> exp(S<tspan font-size="4.5">ij</tspan>(θ)) + 1/|A<tspan font-size="4.5">k</tspan>| log ∑<tspan font-size="4.5">i∈A<tspan font-size="4">k</tspan>, j∈V\A<tspan font-size="4">k</tspan></tspan> exp(S<tspan font-size="4.5">ij</tspan>(θ))</text>
<text x="864.5" y="569.5" textLength="210" lengthAdjust="spacingAndGlyphs">∑ᵏ⁼¹ −1/|A<tspan font-size="4.5">k</tspan>| ∑<tspan font-size="4.5">i,j∈A<tspan font-size="4">k</tspan></tspan> S<tspan font-size="4.5">ij</tspan>(θ) + 1/|A<tspan font-size="4.5">k</tspan>| ∑<tspan font-size="4.5">i∈A<tspan font-size="4">k</tspan></tspan> log(∑<tspan font-size="4.5">j∈V</tspan> S<tspan font-size="4.5">ij</tspan>(θ) − 1)</text>
<text x="864.5" y="586.5" textLength="210" lengthAdjust="spacingAndGlyphs">∑ᵏ⁼¹ 1/|A<tspan font-size="4.5">k</tspan>| (1 − ∑<tspan font-size="4.5">i,j∈A<tspan font-size="4">k</tspan></tspan> S<tspan font-size="4.5">ij</tspan>(θ)) + 1/|A<tspan font-size="4.5">k</tspan>| ∑<tspan font-size="4.5">i∈A<tspan font-size="4">k</tspan></tspan> ∑<tspan font-size="4.5">j∈V\A<tspan font-size="4">k</tspan></tspan> S<tspan font-size="4.5">ij</tspan>(θ)</text>
<text x="854" y="604" textLength="232" lengthAdjust="spacingAndGlyphs">∑ᵏ⁼¹ [−1/|A<tspan font-size="4.5">k</tspan>| ∑<tspan font-size="4.5">i,j∈A<tspan font-size="4">k</tspan></tspan> S<tspan font-size="4.5">ij</tspan>(θ)] + ∑<tspan font-size="4.5">i∈A<tspan font-size="4">k</tspan></tspan> 1/|A<tspan font-size="4.5">k</tspan>| log(∑<tspan font-size="4.5">j∈V</tspan> exp(S<tspan font-size="4.5">ij</tspan>(θ)) − 1)</text>
<text x="894" y="621.5" textLength="150.8" lengthAdjust="spacingAndGlyphs">∑ᵏ⁼¹ 1/|A<tspan font-size="4.5">k</tspan>| ∑<tspan font-size="4.5">i∈A<tspan font-size="4">k</tspan>, n∈V\A<tspan font-size="4">k</tspan></tspan> S²<tspan font-size="4.5">in</tspan>(θ) − ∑<tspan font-size="4.5">i,p∈A</tspan> S²<tspan font-size="4.5">ip</tspan>(θ)</text>
<text x="851.7" y="642.5" textLength="235.3" lengthAdjust="spacingAndGlyphs">∑ᵏ⁼¹ 1/|A<tspan font-size="4.5">k</tspan>| ∑<tspan font-size="4.5">i∈A<tspan font-size="4">k</tspan></tspan> [log ∑<tspan font-size="4.5">j∈A<tspan font-size="4">k</tspan></tspan> exp(D<tspan font-size="4.5">ij</tspan>(θ)) + log ∑<tspan font-size="4.5">j∈V\A<tspan font-size="4">k</tspan></tspan> exp(S<tspan font-size="4.5">ij</tspan>(θ))]</text>
<text x="858.6" y="659.5" textLength="221.9" lengthAdjust="spacingAndGlyphs">∑ᵏ⁼¹ −1/|A<tspan font-size="4.5">k</tspan>| ∑<tspan font-size="4.5">i,j∈A<tspan font-size="4">k</tspan></tspan> S<tspan font-size="4.5">ij</tspan>(θ) + 1/|A<tspan font-size="4.5">k</tspan>| ∑<tspan font-size="4.5">i∈A<tspan font-size="4">k</tspan></tspan> log ∑<tspan font-size="4.5">j∈V\A<tspan font-size="4">k</tspan></tspan> exp(S<tspan font-size="4.5">ij</tspan>(θ))</text>
<text x="877" y="677.5" textLength="185" lengthAdjust="spacingAndGlyphs">∑ᵏ⁼¹ 1/|A<tspan font-size="4.5">k</tspan>| [∑<tspan font-size="4.5">i∈A<tspan font-size="4">k</tspan></tspan> ∑<tspan font-size="4.5">j∈V\A<tspan font-size="4">k</tspan></tspan> S<tspan font-size="4.5">ij</tspan>(θ) − λ ∑<tspan font-size="4.5">i,j∈A<tspan font-size="4">k</tspan></tspan> S<tspan font-size="4.5">ij</tspan>(θ)]</text>
<text x="911" y="694.5" textLength="117" lengthAdjust="spacingAndGlyphs">∑ᵏ⁼¹ λ/|A<tspan font-size="4.5">k</tspan>| ∑<tspan font-size="4.5">i∈A<tspan font-size="4">k</tspan></tspan> ∑<tspan font-size="4.5">j∈V\A<tspan font-size="4">k</tspan></tspan> S<tspan font-size="4.5">ij</tspan>(θ)</text>
<text x="910" y="711.5" textLength="119" lengthAdjust="spacingAndGlyphs">∑ᵏ⁼¹ 1/|A<tspan font-size="4.5">k</tspan>| log det(S<tspan font-size="4.5">A<tspan font-size="4">k</tspan></tspan>(θ) + λI<tspan font-size="4.5">|A<tspan font-size="4">k</tspan>|</tspan>)</text>
<text x="865.4" y="729" textLength="206.9" lengthAdjust="spacingAndGlyphs">∑ᵏ⁼¹ 1/|A<tspan font-size="4.5">k</tspan>| [log det(S<tspan font-size="4.5">A<tspan font-size="4">k</tspan></tspan>(θ) + λI<tspan font-size="4.5">|A<tspan font-size="4">k</tspan>|</tspan>) − log det(S<tspan font-size="4.5">V</tspan>(θ) + λI<tspan font-size="4.5">|V|</tspan>)]</text>
<text x="910" y="746.5" textLength="118" lengthAdjust="spacingAndGlyphs">∑ᵏ⁼¹ 1/|V| ∑<tspan font-size="4.5">i∈V\A<tspan font-size="4">k</tspan></tspan> max<tspan font-size="4.5">j∈A<tspan font-size="4">k</tspan></tspan> S<tspan font-size="4.5">ij</tspan>(θ)</text>
</g>
<text x="1095.6" y="527.5" textLength="51.4" lengthAdjust="spacingAndGlyphs">Not Submodular</text>
<text x="1095.6" y="548.5" textLength="51.4" lengthAdjust="spacingAndGlyphs">Not Submodular</text>
<g><text x="1102" y="569.5" textLength="38" lengthAdjust="spacingAndGlyphs">Submodular</text>
<text x="1102" y="586.5" textLength="38" lengthAdjust="spacingAndGlyphs">Submodular</text>
<text x="1102" y="604" textLength="38" lengthAdjust="spacingAndGlyphs">Submodular</text>
<text x="1102" y="621.5" textLength="38" lengthAdjust="spacingAndGlyphs">Submodular</text>
<text x="1102" y="642.5" textLength="38" lengthAdjust="spacingAndGlyphs">Submodular</text>
<text x="1102" y="659.5" textLength="38" lengthAdjust="spacingAndGlyphs">Submodular</text>
<text x="1102" y="677.5" textLength="38" lengthAdjust="spacingAndGlyphs">Submodular</text>
<text x="1102" y="694.5" textLength="38" lengthAdjust="spacingAndGlyphs">Submodular</text>
<text x="1102" y="711.5" textLength="38" lengthAdjust="spacingAndGlyphs">Submodular</text>
<text x="1102" y="729" textLength="38" lengthAdjust="spacingAndGlyphs">Submodular</text>
<text x="1102" y="746.5" textLength="38" lengthAdjust="spacingAndGlyphs">Submodular</text></g>
</g>

<!-- Properties bullets -->
<g font-size="10.5" fill="#111">
<text x="442" y="800">•</text><text x="452.2" y="800" textLength="676.4" lengthAdjust="spacingAndGlyphs"><tspan class="bi">SCoRe objectives model information in a Set (class)</tspan> - The <tspan class="s i">L</tspan><tspan font-size="7" dy="2">Cf</tspan><tspan dy="-2"> and </tspan><tspan class="s i">L</tspan><tspan font-size="7" dy="2">Sf</tspan><tspan dy="-2"> formulations in SCoRe are derived based on information theoretic</tspan></text>
<text x="452.2" y="816.5" textLength="562.8" lengthAdjust="spacingAndGlyphs">measures and model the total information/correlation of a target class, irrespective of the cardinality of the class.</text>
<text x="442" y="831.8">•</text><text x="452.2" y="831.8" textLength="667.2" lengthAdjust="spacingAndGlyphs"><tspan class="bi">SCoRe-FL inspired from Facility Location function demonstrates inherent class balancing property</tspan>. The SCoRe-FL objectives scales</text>
<text x="452.2" y="846.5" textLength="373.4" lengthAdjust="spacingAndGlyphs">with the size of |<tspan class="i">V</tspan>\<tspan class="i">A</tspan><tspan font-size="7" dy="2">k</tspan><tspan dy="-2">| in contrast to SoTA objectives which scale with |</tspan><tspan class="i">A</tspan><tspan font-size="7" dy="2">k</tspan><tspan dy="-2">|.</tspan></text>
<text x="442" y="861.8">•</text><text x="452.2" y="861.8" textLength="672.8" lengthAdjust="spacingAndGlyphs"><tspan class="bi">SCoRe-LogDet is a volumetric function</tspan> and models the volume of a feature cluster, minimizing which increases intra-class compactness.</text>
</g>
<!-- Properties figure -->
<g class="s" font-size="6.5" fill="#222">
<text x="592" y="876.5">Case 1</text><text x="715" y="876.5">Case 2</text><text x="837.5" y="876.5">Case 3</text>
</g>
<g fill="none" stroke="#222" stroke-width="0.6">
<rect x="556.5" y="879.8" width="94.8" height="84"/><rect x="679" y="879.8" width="95" height="84"/><rect x="801.8" y="879.8" width="94.7" height="84"/><rect x="924" y="879.8" width="94.7" height="84"/>
</g>
<g class="s" font-size="6.5" fill="#222">
<text x="549" y="890">3</text><text x="549" y="928">2</text><text x="549" y="966">1</text>
<text x="672" y="890">3</text><text x="672" y="928">2</text><text x="672" y="966">1</text>
<text x="795" y="890">3</text><text x="795" y="928">2</text><text x="795" y="966">1</text>
<text x="552" y="973">1.5</text><text x="583" y="973">2.0</text><text x="615" y="973">2.5</text><text x="646" y="973">3.0</text>
<text x="674.5" y="973">1.5</text><text x="706" y="973">2.0</text><text x="737" y="973">2.5</text><text x="769" y="973">3.0</text>
<text x="823" y="973">2</text><text x="870" y="973">3</text>
</g>
<g class="s" font-size="4.5" fill="#222">
<text x="913" y="881.5">1.5</text><text x="913" y="897">1.4</text><text x="913" y="912.7">1.3</text><text x="913" y="928.3">1.2</text><text x="913" y="944">1.1</text><text x="913" y="959.5">1.0</text>
<text x="929.5" y="971">Case 1</text><text x="965" y="971">Case 2</text><text x="1000.5" y="971">Case 3</text>
</g>
<text class="s" transform="translate(910,960) rotate(-90)" font-size="5" fill="#222">Normalized  L(θ)</text>
<g>
<rect x="929.3" y="958" width="4.5" height="5.8" fill="#1f77b4"/><rect x="933.8" y="958" width="4.5" height="5.8" fill="#ff7f0e"/><rect x="938.3" y="958" width="4.5" height="5.8" fill="#2ca02c"/>
<rect x="964.6" y="956" width="4.5" height="7.8" fill="#1f77b4"/><rect x="969.1" y="920.6" width="4.5" height="43.2" fill="#ff7f0e"/><rect x="973.6" y="928.4" width="4.5" height="35.4" fill="#2ca02c"/>
<rect x="1000.3" y="954.1" width="4.5" height="9.7" fill="#1f77b4"/><rect x="1004.8" y="926.8" width="4.5" height="37" fill="#ff7f0e"/><rect x="1009.3" y="892.5" width="4.5" height="71.3" fill="#2ca02c"/>
</g>
<rect x="927" y="883" width="25" height="22" fill="#fff" stroke="#ccc" stroke-width="0.4"/>
<rect x="929" y="885.5" width="5" height="4" fill="#1f77b4"/><rect x="929" y="892.5" width="5" height="4" fill="#ff7f0e"/><rect x="929" y="899.5" width="5" height="4" fill="#2ca02c"/>
<g class="s" font-size="4.3" fill="#222"><text x="936" y="889.3">SupCon</text><text x="936" y="896.3">SCoRe-GC</text><text x="936" y="903.3">SCoRe-FL</text></g>
<g font-size="5" fill="#1565c0"><text x="686" y="951.5" textLength="80" lengthAdjust="spacingAndGlyphs">Head Class demonstrates large</text><text x="686" y="959">variance.</text></g>
<g font-size="5" fill="#e00"><text x="808" y="951.5" textLength="74" lengthAdjust="spacingAndGlyphs">Tail Class demonstrates large</text><text x="808" y="959" textLength="86" lengthAdjust="spacingAndGlyphs">variance greater than Head class.</text></g>

<!-- Right column text -->
<g font-size="10.5" fill="#111">
<text x="1169.6" y="201" textLength="322.4" lengthAdjust="spacingAndGlyphs">We conduct experiments on five image classification and object detection</text>
<text x="1169.6" y="212.6" textLength="262.4" lengthAdjust="spacingAndGlyphs">benchmarks popularly studied in longtail learning literature.</text>
<text x="1170" y="235.3">•</text><text x="1180" y="235.3" textLength="341.5" lengthAdjust="spacingAndGlyphs"><tspan class="bi">CIFAR-10-LT  and CIFAR-100-LT</tspan>  we outperform existing SOTA approach SupCon</text>
<text x="1180" y="246.9" textLength="273.5" lengthAdjust="spacingAndGlyphs">by upto 1.5% while achieving significantly <tspan class="b">faster convergence</tspan>.</text>
<text x="1170" y="417">•</text><text x="1180" y="417" textLength="298" lengthAdjust="spacingAndGlyphs"><tspan class="bi">ImageNet-LT-</tspan> Introducing SCoRe objectives to existing SOTA longtail</text>
<text x="1180" y="428.6" textLength="337" lengthAdjust="spacingAndGlyphs">recognition methods improves their performance by upto 3.6% demonstrating</text>
<text x="1180" y="440.4" textLength="227" lengthAdjust="spacingAndGlyphs">the generalizability of the combinatorial objectives.</text>
<text x="1170" y="643">•</text><text x="1180" y="643" textLength="312" lengthAdjust="spacingAndGlyphs"><tspan class="bi">IDD and LVIS (v1.0)</tspan> Introduction of SCoRe objectives to long-tail object</text>
<text x="1180" y="654.8" textLength="337" lengthAdjust="spacingAndGlyphs">detection architectures (Faster-RCNN + FPN below) improves performance by</text>
<text x="1180" y="666.6" textLength="321" lengthAdjust="spacingAndGlyphs">19.4%, significantly boosting performance on tail classes as shown below..</text>
</g>
<!-- CIFAR charts -->
<g class="s" fill="#222">
<text x="1198" y="279.5" font-size="10" textLength="128" lengthAdjust="spacingAndGlyphs">(a) CIFAR-10-LT (IF = 10)</text>
<text x="1394" y="279.5" font-size="10" textLength="88" lengthAdjust="spacingAndGlyphs">(b) CIFAR-10 Step</text>
</g>
<g fill="none" stroke="#222" stroke-width="0.6"><rect x="1190" y="282.6" width="146" height="91.4"/><rect x="1365.5" y="282.6" width="146.5" height="91.4"/></g>
<g stroke="#ccc" stroke-width="0.4">
<path d="M1211.2,282.6V374M1240.7,282.6V374M1270.1,282.6V374M1299.8,282.6V374M1329.2,282.6V374M1190,290.1H1336M1190,307.6H1336M1190,325.1H1336M1190,342.6H1336M1190,360.1H1336"/>
<path d="M1386.8,282.6V374M1416.4,282.6V374M1446,282.6V374M1475.4,282.6V374M1505,282.6V374M1365.5,293.7H1512M1365.5,307H1512M1365.5,320.4H1512M1365.5,333.7H1512M1365.5,347H1512M1365.5,360.4H1512M1365.5,373.7H1512"/>
</g>
<g class="s" font-size="5.5" fill="#222">
<text x="1206" y="381.5">200</text><text x="1235.5" y="381.5">400</text><text x="1265" y="381.5">600</text><text x="1294.5" y="381.5">800</text><text x="1322" y="381.5">1000</text>
<text x="1381.5" y="381.5">200</text><text x="1411" y="381.5">400</text><text x="1440.5" y="381.5">600</text><text x="1470" y="381.5">800</text><text x="1497.5" y="381.5">1000</text>
<text x="1181" y="292">90</text><text x="1181" y="309.5">80</text><text x="1181" y="327">70</text><text x="1181" y="344.5">60</text><text x="1181" y="362">50</text>
<text x="1356.5" y="295.6">85</text><text x="1356.5" y="309">80</text><text x="1356.5" y="322.3">75</text><text x="1356.5" y="335.6">70</text><text x="1356.5" y="349">65</text><text x="1356.5" y="362.3">60</text><text x="1356.5" y="375.6">55</text>
</g>
<g class="s" font-size="7.5" fill="#222">
<text x="1205" y="390.5" textLength="115" lengthAdjust="spacingAndGlyphs">Epochs trained during stage 1</text>
<text x="1381" y="390.5" textLength="115" lengthAdjust="spacingAndGlyphs">Epochs trained during stage 1</text>
<text transform="translate(1174,376) rotate(-90)" textLength="96" lengthAdjust="spacingAndGlyphs">Top-1 Accuracy After stage 2</text>
</g>
<g fill="none" stroke-width="1.3">
<polyline stroke="#f00" stroke-dasharray="1.2,2" points="1196.5,346.1 1240.7,325.1 1285,316.4 1329.2,290.1"/>
<polyline stroke="#ffa500" stroke-dasharray="4,2" points="1196.5,370.6 1240.7,305.9 1285,294.5 1329.2,288.4"/>
<polyline stroke="#00f" stroke-dasharray="4,1.5,1,1.5" points="1196.5,353.1 1240.7,304.1 1285,295.4 1329.2,288.4"/>
<polyline stroke="#0a7a0a" points="1196.5,337.4 1240.7,297.1 1285,290.1 1329.2,286.6"/>
<polyline stroke="#f00" stroke-dasharray="1.2,2" points="1372,369.7 1416.4,333.7 1460.7,320.4 1505,312.4"/>
<polyline stroke="#ffa500" stroke-dasharray="4,2" points="1372,353.7 1416.4,305.7 1460.7,300.4 1505,288.4"/>
<polyline stroke="#00f" stroke-dasharray="4,1.5,1,1.5" points="1372,355 1416.4,307 1460.7,293.7 1505,287"/>
<polyline stroke="#0a7a0a" points="1372,345.7 1416.4,295 1460.7,289.2 1505,287"/>
</g>
<g>
<g fill="#ffa500"><rect x="1193" y="367" width="7" height="7"/><rect x="1237.2" y="302.4" width="7" height="7"/><rect x="1281.5" y="291" width="7" height="7"/><rect x="1325.7" y="284.9" width="7" height="7"/><rect x="1368.5" y="350.2" width="7" height="7"/><rect x="1412.9" y="302.2" width="7" height="7"/><rect x="1457.2" y="296.9" width="7" height="7"/><rect x="1501.5" y="284.9" width="7" height="7"/></g>
<g fill="#00f"><path d="M1196.5,349l4,7h-8z M1240.7,300l4,7h-8z M1285,291.4l4,7h-8z M1329.2,284.4l4,7h-8z M1372,351l4,7h-8z M1416.4,303l4,7h-8z M1460.7,289.7l4,7h-8z M1505,283l4,7h-8z"/></g>
<g fill="#0a7a0a"><circle cx="1196.5" cy="337.4" r="3.3"/><circle cx="1240.7" cy="297.1" r="3.3"/><circle cx="1285" cy="290.1" r="3.3"/><circle cx="1329.2" cy="286.6" r="3.3"/><circle cx="1372" cy="345.7" r="3.3"/><circle cx="1416.4" cy="295" r="3.3"/><circle cx="1460.7" cy="289.2" r="3.3"/><circle cx="1505" cy="287" r="3.3"/></g>
<g fill="#f00" font-size="8" font-weight="bold"><text x="1193" y="349">✖</text><text x="1237.2" y="328">✖</text><text x="1281.5" y="319.4">✖</text><text x="1368.5" y="372.7">✖</text><text x="1412.9" y="336.7">✖</text><text x="1457.2" y="323.4">✖</text><text x="1501.5" y="315.4">✖</text></g>
</g>
<rect x="1243" y="325" width="88.6" height="45" fill="#fff" fill-opacity="0.85" stroke="#ccc" stroke-width="0.4"/>
<rect x="1418" y="325" width="89" height="45" fill="#fff" fill-opacity="0.85" stroke="#ccc" stroke-width="0.4"/>
<g stroke-width="1.3" fill="none">
<path d="M1245,331.5h14M1420,331.5h14" stroke="#f00" stroke-dasharray="1.2,2"/>
<path d="M1245,342h14M1420,342h14" stroke="#ffa500"/>
<path d="M1245,352.5h14M1420,352.5h14" stroke="#00f" stroke-dasharray="4,1.5,1,1.5"/>
<path d="M1245,363h14M1420,363h14" stroke="#0a7a0a"/>
</g>
<rect x="1248.5" y="338.5" width="7" height="7" fill="#ffa500"/><rect x="1423.5" y="338.5" width="7" height="7" fill="#ffa500"/>
<path d="M1252,349l4,7h-8zM1427,349l4,7h-8z" fill="#00f"/>
<circle cx="1252" cy="363" r="3" fill="#0a7a0a"/><circle cx="1427" cy="363" r="3" fill="#0a7a0a"/>
<g class="s" font-size="7" fill="#222">
<text x="1262" y="334">SupCon</text><text x="1262" y="344.5">SCoRe-LogDet</text><text x="1262" y="355">SCoRe-GC</text><text x="1262" y="365.5">SCoRe-FL</text>
<text x="1437" y="334">SupCon</text><text x="1437" y="344.5">SCoRe-LogDet</text><text x="1437" y="355">SCoRe-GC</text><text x="1437" y="365.5">SCoRe-FL</text>
</g>

<!-- ImageNet table -->
<rect x="1209.8" y="560.8" width="257.5" height="9" fill="#E0FFFF"/>
<rect x="1209.8" y="569.8" width="257.5" height="20.4" fill="#90EE90"/>
<rect x="1209.8" y="590.2" width="257.5" height="9.4" fill="#E0FFFF"/>
<rect x="1209.8" y="599.6" width="257.5" height="20.1" fill="#90EE90"/>
<g stroke="#333" fill="none">
<path d="M1209.8,450.6H1467.3" stroke-width="0.6"/>
<path d="M1350.7,460.5H1467.3" stroke-width="0.4"/>
<path d="M1209.8,471.4H1467.3M1209.8,474.2H1467.3" stroke-width="0.5"/>
<path d="M1209.8,498.4H1467.3M1209.8,560.8H1467.3M1209.8,590.2H1467.3" stroke-width="0.4"/>
<path d="M1209.8,619.7H1467.3" stroke-width="0.6"/>
<path d="M1350.7,450.6V470M1350.7,475V619.7M1440.3,460.5V470M1440.3,475V619.7" stroke-width="0.4"/>
</g>
<g class="s" font-size="8" fill="#111">
<text class="s b" x="1216" y="462">Method</text>
<text class="s b" x="1409" y="457.5" text-anchor="middle">ImageNet-LT</text>
<g class="b" text-anchor="middle"><text x="1367.5" y="467.3">Many</text><text x="1398.5" y="467.3">Med</text><text x="1426.5" y="467.3">Few</text><text x="1454" y="467.3">All</text></g>
<text x="1216" y="485" textLength="104.9" lengthAdjust="spacingAndGlyphs">CE<tspan font-size="5" dy="-3">*</tspan><tspan dy="3" class="cite"> (Baum &amp; Wilczek, 1987)</tspan></text>
<text x="1216" y="495.5" textLength="104.9" lengthAdjust="spacingAndGlyphs">SupCon<tspan font-size="5" dy="-3">*</tspan><tspan dy="3" class="cite"> (Khosla et al., 2020)</tspan></text>
<text x="1216" y="506.6" textLength="103" lengthAdjust="spacingAndGlyphs">CB-Focal<tspan font-size="5" dy="-3">*</tspan><tspan dy="3" class="cite"> (Cui et al., 2019b)</tspan></text>
<text x="1216" y="517.2" textLength="91.3" lengthAdjust="spacingAndGlyphs">LDAM<tspan font-size="5" dy="-3">*</tspan><tspan dy="3" class="cite"> (Cao et al., 2019)</tspan></text>
<text x="1216" y="527.7" textLength="88.6" lengthAdjust="spacingAndGlyphs">KCL<tspan font-size="5" dy="-3">*</tspan><tspan dy="3" class="cite"> (Kang et al., 2021)</tspan></text>
<text x="1216" y="538.5" textLength="75.7" lengthAdjust="spacingAndGlyphs">TSC<tspan font-size="5" dy="-3">*</tspan><tspan dy="3" class="cite"> (Li et al., 2022)</tspan></text>
<text x="1216" y="548" textLength="79.8" lengthAdjust="spacingAndGlyphs">BCL <tspan class="cite">(Zhu et al., 2022)</tspan></text>
<text x="1216" y="557.9" textLength="128.8" lengthAdjust="spacingAndGlyphs">RIDE <tspan class="cite">(Wang et al., 2021)</tspan> (3 experts)</text>
<text x="1216" y="567.9" textLength="127.6" lengthAdjust="spacingAndGlyphs">PaCo <tspan class="cite">(Cui et al., 2021)</tspan> (400 epochs)</text>
<text x="1216" y="577.8" textLength="92.2" lengthAdjust="spacingAndGlyphs">PaCo + SCoRe-GC (<tspan class="b">ours</tspan>)</text>
<text x="1216" y="587.3" textLength="90" lengthAdjust="spacingAndGlyphs">PaCo + SCoRe-FL (<tspan class="b">ours</tspan>)</text>
<text x="1216" y="597.7" textLength="84.6" lengthAdjust="spacingAndGlyphs">GLMC <tspan class="cite">(Du et al., 2023)</tspan></text>
<text x="1216" y="607.2" textLength="98.4" lengthAdjust="spacingAndGlyphs">GLMC + SCoRe-GC (<tspan class="b">ours</tspan>)</text>
<text x="1216" y="617.1" textLength="96.5" lengthAdjust="spacingAndGlyphs">GLMC + SCoRe-FL (<tspan class="b">ours</tspan>)</text>
<g text-anchor="middle">
<text x="1367.5" y="485">64.0</text><text x="1398.5" y="485">33.8</text><text x="1426.5" y="485">5.8</text><text x="1454" y="485">41.6</text>
<text x="1367.5" y="495.5">53.4</text><text x="1398.5" y="495.5">2.9</text><text x="1426.5" y="495.5">0.0</text><text x="1454" y="495.5">22.0</text>
<text x="1367.5" y="506.6">39.6</text><text x="1398.5" y="506.6">32.7</text><text x="1426.5" y="506.6">16.8</text><text x="1454" y="506.6">33.2</text>
<text x="1367.5" y="517.2">60.4</text><text x="1398.5" y="517.2">46.9</text><text x="1426.5" y="517.2">30.7</text><text x="1454" y="517.2">49.8</text>
<text x="1367.5" y="527.7">61.8</text><text x="1398.5" y="527.7">49.4</text><text x="1426.5" y="527.7">30.9</text><text x="1454" y="527.7">51.5</text>
<text x="1367.5" y="538.5">63.5</text><text x="1398.5" y="538.5">49.7</text><text x="1426.5" y="538.5">30.4</text><text x="1454" y="538.5">52.4</text>
<text x="1367.5" y="548">67.9</text><text x="1398.5" y="548">54.2</text><text class="s b" x="1426.5" y="548">36.6</text><text x="1454" y="548">57.1</text>
<text x="1367.5" y="557.9">66.4</text><text x="1398.5" y="557.9">53.9</text><text x="1426.5" y="557.9">35.6</text><text x="1454" y="557.9">56.2</text>
<text x="1367.5" y="567.9">63.6</text><text x="1398.5" y="567.9">55.6</text><text x="1426.5" y="567.9">34.9</text><text x="1454" y="567.9">55.6</text>
<text class="s b" x="1367.5" y="577.8">69.4</text><text x="1398.5" y="577.8">44.5</text><text x="1426.5" y="577.8">16.7</text><text x="1454" y="577.8">50.2</text>
<text x="1367.5" y="587.3">68.9</text><text class="s b" x="1398.5" y="587.3">55.8</text><text x="1426.5" y="587.3">32.3</text><text class="s b" x="1454" y="587.3">57.5</text>
<text x="1367.5" y="597.7">70.1</text><text x="1398.5" y="597.7">52.4</text><text x="1426.5" y="597.7">30.4</text><text x="1454" y="597.7">56.1</text>
<text x="1367.5" y="607.2">68.7</text><text x="1398.5" y="607.2">52.4</text><text x="1426.5" y="607.2">31.5</text><text x="1454" y="607.2">55.7</text>
<text class="s b" x="1367.5" y="617.1">71.4</text><text class="s b" x="1398.5" y="617.1">56.2</text><text class="s b" x="1426.5" y="617.1">36.6</text><text class="s b" x="1454" y="617.1">59.3</text>
</g>
</g>

<!-- Bar chart -->
<path d="M1183.5,771.2H1510.8" stroke="#bbb" stroke-width="0.5"/>
<g stroke="#222" stroke-width="0.4">
<rect x="1192.3" y="696.3" width="7.9" height="74.9" fill="#a9d18e"/><rect x="1200.2" y="693.1" width="7.9" height="78.1" fill="#f4b183"/>
<rect x="1225.1" y="705.6" width="7.9" height="65.6" fill="#a9d18e"/><rect x="1233" y="700.2" width="7.9" height="71" fill="#f4b183"/>
<rect x="1257.5" y="710" width="7.9" height="61.2" fill="#a9d18e"/><rect x="1265.4" y="703.9" width="7.9" height="67.3" fill="#f4b183"/>
<rect x="1290.3" y="695.7" width="7.9" height="75.5" fill="#a9d18e"/><rect x="1298.2" y="688.9" width="7.9" height="82.3" fill="#f4b183"/>
<rect x="1323.1" y="693" width="7.9" height="78.2" fill="#a9d18e"/><rect x="1331" y="687.7" width="7.9" height="83.5" fill="#f4b183"/>
<rect x="1355.7" y="707.9" width="7.9" height="63.3" fill="#a9d18e"/><rect x="1363.6" y="698.6" width="7.9" height="72.6" fill="#f4b183"/>
<rect x="1388.1" y="697.4" width="7.9" height="73.8" fill="#a9d18e"/><rect x="1396" y="690.2" width="7.9" height="81" fill="#f4b183"/>
<rect x="1421" y="732.4" width="7.9" height="38.8" fill="#a9d18e"/><rect x="1428.9" y="724.7" width="7.9" height="46.5" fill="#f4b183"/>
<rect x="1453.7" y="749.7" width="7.9" height="21.5" fill="#a9d18e"/><rect x="1461.6" y="739.9" width="7.9" height="31.3" fill="#f4b183"/>
<rect x="1486.1" y="718.7" width="7.9" height="52.5" fill="#a9d18e"/><rect x="1494" y="710.4" width="7.9" height="60.8" fill="#f4b183"/>
</g>
<polyline fill="none" stroke="#1f2d6b" stroke-width="1.1" points="1200.2,693.1 1233,697.3 1265.4,704.2 1298.2,702.5 1331,747 1363.6,750.3 1396,757 1428.9,760.7 1461.6,768.3 1494,768.8"/>
<rect x="1380.8" y="707.7" width="126.9" height="75.3" fill="none" stroke="#e00" stroke-width="1"/>
<text x="1415" y="694" font-size="5" class="bi" fill="#111" textLength="86" lengthAdjust="spacingAndGlyphs">Rare Classes in India Driving Dataset</text>
<path d="M1444.5,707 V700 H1442 L1445.5,696 L1449,700 H1446.5 V707 Z" fill="#fff" stroke="#222" stroke-width="0.4"/>
<g font-size="5" fill="#333" text-anchor="middle">
<text x="1192" y="694.5">66.08</text><text x="1205" y="691.5" class="b">68.9</text>
<text x="1225" y="704">57.83</text><text x="1238" y="698.5" class="b">62.58</text>
<text x="1257" y="708.5">53.96</text><text x="1270" y="702" class="b">59.37</text>
<text x="1290" y="694">66.61</text><text x="1303" y="687" class="b">72.61</text>
<text x="1323" y="691.5">68.95</text><text x="1336" y="686" class="b">73.63</text>
<text x="1355" y="706">55.83</text><text x="1368" y="696.5" class="b">64.03</text>
<text x="1388" y="695.5">65.08</text><text x="1401" y="688.5" class="b">71.43</text>
<text x="1421" y="730.5">34.21</text><text x="1434" y="723" class="b">40.97</text>
<text x="1454" y="748">18.98</text><text x="1467" y="738" class="b">27.59</text>
<text x="1486" y="717">46.3</text><text x="1499" y="708.5" class="b">53.61</text>
</g>
<g font-size="4.3" fill="#666">
<text x="1175.5" y="682">80</text><text x="1175.5" y="693.4">70</text><text x="1175.5" y="704.7">60</text><text x="1175.5" y="716">50</text><text x="1175.5" y="727.4">40</text><text x="1175.5" y="738.7">30</text><text x="1175.5" y="750">20</text><text x="1175.5" y="761.4">10</text><text x="1177" y="772.7">0</text>
<text x="1516" y="682">120</text><text x="1516" y="697">100</text><text x="1517" y="712">80</text><text x="1517" y="727.2">60</text><text x="1517" y="742.3">40</text><text x="1517" y="757.4">20</text><text x="1518" y="772.7">0</text>
</g>
<g font-size="5.2" fill="#333" text-anchor="middle">
<text x="1200.2" y="779.5">motorcycle</text><text x="1233" y="779.5">Rider</text><text x="1265.4" y="779.5">Person</text><text x="1298.2" y="779.5">Car</text><text x="1331" y="779.5">Autorickshaw</text><text x="1363.6" y="779.5">Truck</text><text x="1396" y="779.5">Bus</text><text x="1428.9" y="779.5">Traffic Sign</text><text x="1461.6" y="779.5">Traffic Light</text><text x="1494" y="779.5">Bicycle</text>
</g>
<text transform="translate(1172,767) rotate(-90)" font-size="4.8" fill="#555" textLength="80" lengthAdjust="spacingAndGlyphs">Object Det Performance (mAP_50)</text>
<text transform="translate(1528,763) rotate(-90)" font-size="4.8" fill="#555" textLength="75" lengthAdjust="spacingAndGlyphs">Class Frequency (in thousands)</text>
<rect x="1285.8" y="787.2" width="9.5" height="2.6" fill="#a9d18e" stroke="#222" stroke-width="0.3"/>
<rect x="1322" y="787.2" width="9.5" height="2.6" fill="#f4b183" stroke="#222" stroke-width="0.3"/>
<path d="M1364,788.5h9.5" stroke="#1f2d6b" stroke-width="1"/>
<g font-size="5" fill="#333"><text x="1296" y="790.3">SupCon</text><text x="1332" y="790.3">SCoRe-FL</text><text x="1374" y="790.3">Class Frequency</text></g>

<!-- Citation -->
<g id="qr"></g>
<path d="M1361,854 H1460 Q1465,854 1465,859 V887 Q1465,892 1460,892 H1401 L1338.3,915 L1372.5,892 H1361 Q1355,892 1355,887 V859 Q1355,854 1361,854 Z" fill="#000"/>
<text x="1366" y="879" font-size="15" fill="#fff" textLength="88" lengthAdjust="spacingAndGlyphs" font-family="'DejaVu Sans',sans-serif">SCAN HERE</text>
<g font-size="10" fill="#111">
<text x="1356" y="947.5" textLength="167" lengthAdjust="spacingAndGlyphs">Please refer to our full paper for more</text>
<text x="1356" y="959.4" textLength="143" lengthAdjust="spacingAndGlyphs">details and experimental results.</text>
</g>
</svg>
<script>
(function(){
var NS="http://www.w3.org/2000/svg";
var seed=12345;function rnd(){seed=(seed*16807)%2147483647;return seed/2147483647;}
function gs(){var u=rnd()||1e-9,v=rnd();return Math.sqrt(-2*Math.log(u))*Math.cos(2*Math.PI*v);}
var g=document.getElementById("sc");
function cl(cx,cy,sx,sy,n,col,r){for(var i=0;i<n;i++){var c=document.createElementNS(NS,"circle");c.setAttribute("cx",(cx+gs()*sx).toFixed(1));c.setAttribute("cy",(cy+gs()*sy).toFixed(1));c.setAttribute("r",r);c.setAttribute("fill",col);g.appendChild(c);}}
var B="#1f77b4",O="#ff7f0e",G="#2ca02c";
// top (a)
cl(481,304.3,5,6,40,B,1.6);cl(481,304.3,5,6,40,O,1.6);cl(481,304.3,4.5,5.5,50,G,1.6);
cl(592,304.3,5,7,60,B,1.6);cl(592,281.7,4.5,6,60,G,1.6);cl(615.5,281.7,5,6,60,O,1.6);
cl(703,304.3,5,7,60,B,1.6);cl(703,265,5,6,60,G,1.6);cl(744,265,5,5,60,O,1.6);
// (b)
cl(481.5,410.6,4.5,13,70,B,1.8);cl(521,410.6,4.5,13,70,O,1.8);
cl(586,410.6,1.8,4,60,B,1.6);cl(620,410.6,1.8,4,60,O,1.6);
cl(698.4,423.7,1,1.6,30,B,1.5);cl(729,423.7,1,1.6,30,O,1.5);
// properties
cl(603.9,899.3,4,5,50,G,1.5);cl(588.1,926,5.5,7,120,B,1.5);cl(629.2,927.9,4,5,35,O,1.5);
cl(723.3,899.3,5,7,50,G,1.5);cl(723.3,926,13,13,150,B,1.5);cl(748.5,926,4,5,35,O,1.5);
cl(832.3,899.3,4,6,50,G,1.5);cl(834.6,926,5,8,120,B,1.5);cl(853.4,928,9,13,40,O,1.5);
// formulation figure
cl(222,557,6,2,30,G,0.9);cl(228,578,10,5.5,200,B,0.9);cl(270,557,7,3.5,100,O,0.9);
cl(99,611,5,3,30,G,0.8);cl(130,610,8,5,120,O,0.8);cl(104,628,12,6,200,B,0.8);
cl(218,650,4,2.5,25,G,0.8);cl(262,650,4,3,50,O,0.8);cl(222,676,5,3,80,B,0.8);
// QR
var q=document.getElementById("qr"),N=33,X=1198,Y=855,W=133/N,H=114/N;
function fin(r,c,i,j){var a=i-r,b=j-c;if(a<0||b<0||a>6||b>6)return -1;if(a==0||a==6||b==0||b==6)return 1;if(a>=2&&a<=4&&b>=2&&b<=4)return 1;return 0;}
for(var i=0;i<N;i++)for(var j=0;j<N;j++){var v=fin(0,0,i,j);if(v<0)v=fin(0,N-7,i,j);if(v<0)v=fin(N-7,0,i,j);
if(v<0){if((i==7&&j<8)||(j==7&&i<8)||(i==7&&j>N-9)||(j==N-8&&i<8)||(i==N-8&&j<8)||(j==7&&i>N-9))v=0;else v=rnd()<0.5?1:0;}
if(v){var rc=document.createElementNS(NS,"rect");rc.setAttribute("x",(X+j*W).toFixed(2));rc.setAttribute("y",(Y+i*H).toFixed(2));rc.setAttribute("width",(W+0.15).toFixed(2));rc.setAttribute("height",(H+0.15).toFixed(2));rc.setAttribute("fill","#000");q.appendChild(rc);}}
})();
</script>
</body></html>
